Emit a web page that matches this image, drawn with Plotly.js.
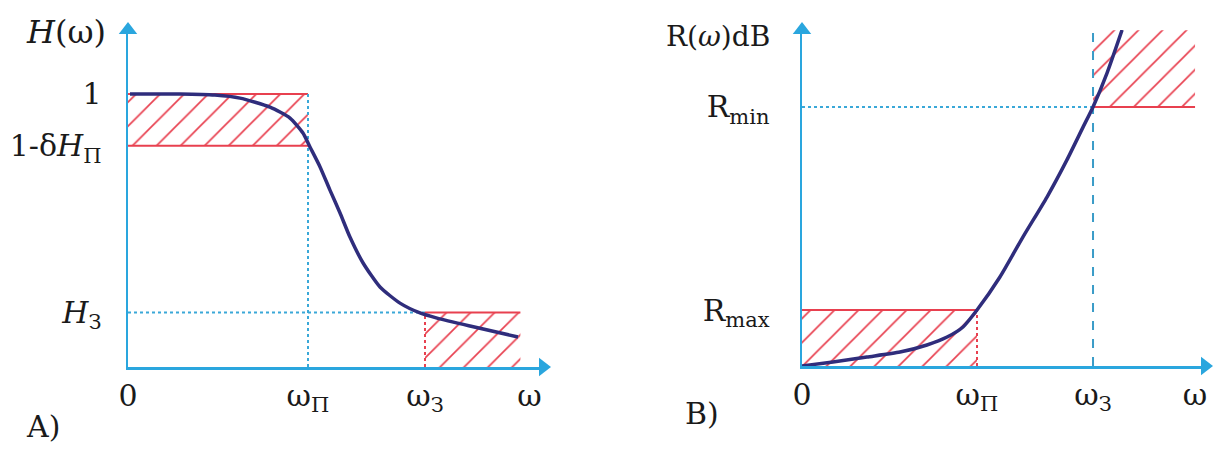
<!DOCTYPE html>
<html>
<head>
<meta charset="utf-8">
<script src="https://cdn.plot.ly/plotly-3.0.1.min.js"></script>
<style>html,body{margin:0;padding:0;background:#fff}#g{width:1232px;height:449px}</style>
</head>
<body>
<div id="g"></div>
<script>
// ---- Panel A: H(ω) ----
const aOmega = [0.011, 0.289, 0.483, 0.622, 0.789, 0.9, 0.972, 1.011, 1.067, 1.122, 1.178, 1.233, 1.306, 1.4, 1.511, 1.622, 1.717, 1.9, 2.167];
const aH     = [1.0, 1.0, 0.996, 0.985, 0.952, 0.912, 0.857, 0.806, 0.733, 0.648, 0.564, 0.476, 0.381, 0.293, 0.234, 0.198, 0.179, 0.15, 0.11];
const aOmegaP = 1.0, aOmegaS = 1.65, aOmegaEnd = 2.18;
const aPassTop = 1.0, aPassLow = 0.81, aStop = 0.2;
const aXTickVals = [0, aOmegaP, aOmegaS, 2.23];
const aXTickText = ['0', 'ω<sub>П</sub>', 'ω<sub>З</sub>', 'ω'];
const aYTickVals = [aPassTop, aPassLow, aStop];
const aYTickText = ['1', '1-δ<i>H</i><sub>П</sub>', '<i>H</i><sub>З</sub>'];

// ---- Panel B: R(ω) dB ----
const bOmega = [0, 0.177, 0.371, 0.56, 0.714, 0.829, 0.92, 1.0, 1.131, 1.263, 1.4, 1.514, 1.606, 1.663, 1.743, 1.829];
const bR     = [0, 0.015, 0.033, 0.051, 0.077, 0.106, 0.143, 0.205, 0.326, 0.473, 0.619, 0.755, 0.875, 0.949, 1.073, 1.231];
const bOmegaP = 1.0, bOmegaS = 1.663, bOmegaEnd = 2.246;
const bRmax = 0.205, bRmin = 0.949, bTop = 1.23;
const bXTickVals = [0, bOmegaP, bOmegaS, 2.246];
const bXTickText = ['0', 'ω<sub>П</sub>', 'ω<sub>З</sub>', 'ω'];
const bYTickVals = [bRmin, bRmax];
const bYTickText = ['R<sub>min</sub>', 'R<sub>max</sub>'];

const AX = '#2aa6de', RED = '#e8404f', CURVE = '#2f2d7c', DOT = '#3aa8d8';
const FONT = 'DejaVu Serif, Liberation Serif, serif';
const W = 1232, H = 449;

function hatch(xs, ys, xa, ya) {
  return {x: xs, y: ys, xaxis: xa, yaxis: ya, type: 'scatter', mode: 'lines', fill: 'toself',
    line: {width: 0, color: 'rgba(0,0,0,0)'}, fillcolor: 'rgba(0,0,0,0)',
    fillpattern: {shape: '/', fgcolor: RED, bgcolor: 'rgba(0,0,0,0)', size: 17, solidity: 0.1},
    hoverinfo: 'skip', showlegend: false, cliponaxis: false};
}
function seg(xs, ys, xa, ya, color, dash, width) {
  return {x: xs, y: ys, xaxis: xa, yaxis: ya, type: 'scatter', mode: 'lines',
    line: {color: color, dash: dash || 'solid', width: width || 2},
    hoverinfo: 'skip', showlegend: false, cliponaxis: false};
}
function curve(xs, ys, xa, ya) {
  return {x: xs, y: ys, xaxis: xa, yaxis: ya, type: 'scatter', mode: 'lines',
    line: {color: CURVE, width: 3.5, shape: 'spline', smoothing: 0.6},
    hoverinfo: 'skip', showlegend: false, cliponaxis: false};
}
function tip(x, y, xa, ya, sym) {
  return {x: [x], y: [y], xaxis: xa, yaxis: ya, type: 'scatter', mode: 'markers',
    marker: {symbol: sym, size: 16, color: AX}, hoverinfo: 'skip', showlegend: false, cliponaxis: false};
}

const traces = [
  // Panel A
  hatch([0, aOmegaP, aOmegaP, 0, 0], [aPassLow, aPassLow, aPassTop, aPassTop, aPassLow], 'x', 'y'),
  hatch([aOmegaS, aOmegaEnd, aOmegaEnd, aOmegaS, aOmegaS], [0, 0, aStop, aStop, 0], 'x', 'y'),
  seg([0, aOmegaP], [aPassTop, aPassTop], 'x', 'y', RED),
  seg([0, aOmegaP], [aPassLow, aPassLow], 'x', 'y', RED),
  seg([aOmegaP, aOmegaP], [0, aPassTop], 'x', 'y', DOT, 'dot', 2),
  seg([0, aOmegaS], [aStop, aStop], 'x', 'y', DOT, 'dot', 2),
  seg([aOmegaS, aOmegaEnd], [aStop, aStop], 'x', 'y', RED),
  seg([aOmegaS, aOmegaS], [0, aStop], 'x', 'y', RED, 'dot', 2),
  curve(aOmega, aH, 'x', 'y'),
  // Panel B
  hatch([0, bOmegaP, bOmegaP, 0, 0], [0, 0, bRmax, bRmax, 0], 'x2', 'y2'),
  hatch([bOmegaS, bOmegaEnd, bOmegaEnd, bOmegaS, bOmegaS], [bRmin, bRmin, bTop, bTop, bRmin], 'x2', 'y2'),
  seg([0, bOmegaP], [bRmax, bRmax], 'x2', 'y2', RED),
  seg([bOmegaP, bOmegaP], [0, bRmax], 'x2', 'y2', RED, 'dot', 2),
  seg([0, bOmegaS], [bRmin, bRmin], 'x2', 'y2', DOT, 'dot', 2),
  seg([bOmegaS, bOmegaEnd], [bRmin, bRmin], 'x2', 'y2', RED),
  seg([bOmegaS, bOmegaS], [0, bTop], 'x2', 'y2', '#3a9cc8', 'dash', 2),
  curve(bOmega, bR, 'x2', 'y2'),
  // arrow tips
  tip(2.3056, 0, 'x', 'y', 'triangle-right'),
  tip(0, 1.2344, 'x', 'y', 'triangle-up'),
  tip(2.3029, 0, 'x2', 'y2', 'triangle-right'),
  tip(0, 1.2308, 'x2', 'y2', 'triangle-up')
];

const tickFont = {family: FONT, size: 30, color: '#1a1a1a'};
function xAx(d0, d1, r1, vals, text, anchor) {
  return {domain: [d0 / W, d1 / W], range: [0, r1], anchor: anchor, showgrid: false, zeroline: false,
    showline: true, linecolor: AX, linewidth: 2.5, ticks: '', tickvals: vals, ticktext: text,
    tickfont: tickFont, ticklabelstandoff: 0, fixedrange: true};
}
function yAx(bottomPx, topPx, r1, vals, text, anchor, standoff) {
  return {domain: [1 - bottomPx / H, 1 - topPx / H], range: [0, r1], anchor: anchor, showgrid: false, zeroline: false,
    showline: true, linecolor: AX, linewidth: 2.5, ticks: '', tickvals: vals, ticktext: text,
    tickfont: tickFont, ticklabelstandoff: standoff, fixedrange: true};
}

function P(px, py) { return {x: px / W, y: 1 - py / H}; }
function lab(px, py, text, xanchor, size) {
  const p = P(px, py);
  return {xref: 'paper', yref: 'paper', x: p.x, y: p.y, text: text, showarrow: false,
    xanchor: xanchor || 'left', yanchor: 'middle', font: {family: FONT, size: size || 30, color: '#1a1a1a'}};
}

const layout = {
  width: W, height: H, margin: {l: 0, r: 0, t: 0, b: 0},
  paper_bgcolor: '#fff', plot_bgcolor: 'rgba(0,0,0,0)', showlegend: false,
  xaxis: xAx(128, 543, 2.3056, aXTickVals, aXTickText, 'y'),
  yaxis: yAx(367, 30, 1.2344, aYTickVals, aYTickText, 'x', 18),
  xaxis2: xAx(802, 1205, 2.3029, bXTickVals, bXTickText, 'y2'),
  yaxis2: yAx(366, 30, 1.2308, bYTickVals, bYTickText, 'x2', 24),
  annotations: [
    lab(108, 32, '<i>H</i>(ω)', 'right', 32),
    lab(24, 426, 'A)', 'left', 30),
    lab(772, 36, 'R(<i>ω</i>)dB', 'right', 28),
    lab(683, 413, 'B)', 'left', 30)
  ]
};

Plotly.newPlot('g', traces, layout, {staticPlot: true, displayModeBar: false});
</script>
</body>
</html>
